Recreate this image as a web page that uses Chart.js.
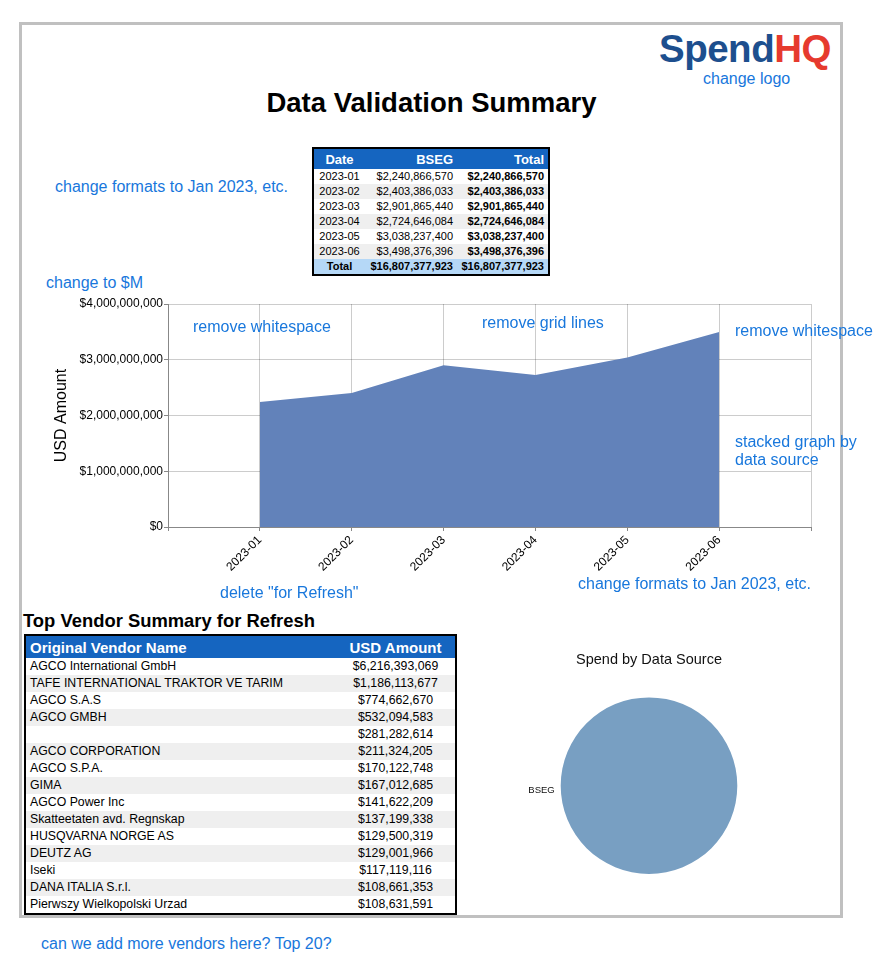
<!DOCTYPE html>
<html>
<head>
<meta charset="utf-8">
<script src="https://cdn.jsdelivr.net/npm/chart.js@4.4.0/dist/chart.umd.min.js"></script>
<style>
  html, body { margin: 0; padding: 0; background: #fff; }
  body { width: 889px; height: 961px; position: relative; overflow: hidden;
         font-family: "Liberation Sans", Arial, sans-serif; color: #000; }
  .abs { position: absolute; white-space: nowrap; }
  .frame { position: absolute; left: 19px; top: 22px; width: 824px; height: 896px;
           border: 3px solid #c0c0c0; box-sizing: border-box; }
  .note { position: absolute; white-space: nowrap; color: #1877dc; font-size: 16px; line-height: 16px; }
  table { border-collapse: collapse; table-layout: fixed; position: absolute; }
  #sumTable { left: 312px; top: 147px; border: 2px solid #000; font-size: 11px; }
  #sumTable th { background: #1565c0; color: #fff; font-size: 13px; height: 20px; padding: 0 4px; }
  #sumTable td { height: 15px; padding: 0 4px; line-height: 15px; }
  #venTable { left: 24px; top: 634px; border: 2px solid #000; font-size: 12.3px; }
  #venTable th { background: #1565c0; color: #fff; font-size: 15px; height: 22px; padding: 0 4px; }
  #venTable td { height: 17px; padding: 0 4px; line-height: 17px; }
  tr.alt td { background: #efefef; }
  tr.tot td { background: #b5d8f7; font-weight: bold; }
  canvas { position: absolute; }
</style>
</head>
<body>
<div class="frame"></div>

<div class="abs" style="left:659px; top:27px; font-size:38.5px; line-height:44px; font-weight:bold; letter-spacing:-0.5px;"><span style="color:#1d4f8e">Spend</span><span style="color:#e63a2e">HQ</span></div>
<div class="note" style="left:703px; top:71px;">change logo</div>

<div class="abs" style="left:0; width:863px; top:89px; text-align:center; font-size:27.5px; line-height:27px; font-weight:bold;">Data Validation Summary</div>

<div class="note" style="left:55px; top:179px;">change formats to Jan 2023, etc.</div>
<div class="note" style="left:46px; top:275px;">change to $M</div>

<table id="sumTable">
  <colgroup><col style="width:52px"><col style="width:92px"><col style="width:92px"></colgroup>
  <thead><tr><th style="text-align:center">Date</th><th style="text-align:right">BSEG</th><th style="text-align:right">Total</th></tr></thead>
  <tbody id="sumBody"></tbody>
</table>

<canvas id="area" width="800" height="290" style="left:40px; top:295px; width:800px; height:290px;"></canvas>

<div class="note" style="left:193px; top:319px;">remove whitespace</div>
<div class="note" style="left:482px; top:315px;">remove grid lines</div>
<div class="note" style="left:735px; top:323px;">remove whitespace</div>
<div class="note" style="left:735px; top:433px; line-height:18px;">stacked graph by<br>data source</div>
<div class="note" style="left:220px; top:585px;">delete "for Refresh"</div>
<div class="note" style="left:578px; top:576px;">change formats to Jan 2023, etc.</div>

<div class="abs" style="left:23px; top:612px; font-size:18.4px; line-height:18px; font-weight:bold;">Top Vendor Summary for Refresh</div>
<table id="venTable">
  <colgroup><col style="width:311px"><col style="width:120px"></colgroup>
  <thead><tr><th style="text-align:left">Original Vendor Name</th><th style="text-align:center">USD Amount</th></tr></thead>
  <tbody id="venBody"></tbody>
</table>

<canvas id="pie" width="360" height="240" style="left:469px; top:640px; width:360px; height:240px;"></canvas>

<div class="note" style="left:41px; top:936px;">can we add more vendors here? Top 20?</div>

<script>
// ---- Data ----
const months = ['2023-01', '2023-02', '2023-03', '2023-04', '2023-05', '2023-06'];
const bsegValues = [2240866570, 2403386033, 2901865440, 2724646084, 3038237400, 3498376396];
const totalValues = [2240866570, 2403386033, 2901865440, 2724646084, 3038237400, 3498376396];
const grandTotal = 16807377923;
const yTicks = [0, 1000000000, 2000000000, 3000000000, 4000000000];

const vendorNames = ['AGCO International GmbH', 'TAFE INTERNATIONAL TRAKTOR VE TARIM', 'AGCO S.A.S', 'AGCO GMBH', '',
  'AGCO CORPORATION', 'AGCO S.P.A.', 'GIMA', 'AGCO Power Inc', 'Skatteetaten avd. Regnskap',
  'HUSQVARNA NORGE AS', 'DEUTZ AG', 'Iseki', 'DANA ITALIA S.r.l.', 'Pierwszy Wielkopolski Urzad'];
const vendorAmounts = [6216393069, 1186113677, 774662670, 532094583, 281282614,
  211324205, 170122748, 167012685, 141622209, 137199338,
  129500319, 129001966, 117119116, 108661353, 108631591];

const sourceLabels = ['BSEG'];
const sourceValues = [16807377923];

const usd = v => '$' + Number(v).toLocaleString('en-US');

// ---- Tables ----
const sb = document.getElementById('sumBody');
months.forEach((m, i) => {
  const tr = document.createElement('tr');
  if (i % 2 === 1) tr.className = 'alt';
  tr.innerHTML = '<td style="text-align:center">' + m + '</td><td style="text-align:right">' + usd(bsegValues[i]) +
    '</td><td style="text-align:right;font-weight:bold">' + usd(totalValues[i]) + '</td>';
  sb.appendChild(tr);
});
const ttr = document.createElement('tr');
ttr.className = 'tot';
ttr.innerHTML = '<td style="text-align:center">Total</td><td style="text-align:right">' + usd(grandTotal) +
  '</td><td style="text-align:right">' + usd(grandTotal) + '</td>';
sb.appendChild(ttr);

const vb = document.getElementById('venBody');
vendorNames.forEach((n, i) => {
  const tr = document.createElement('tr');
  if (i % 2 === 1) tr.className = 'alt';
  tr.innerHTML = '<td>' + (n || '&nbsp;') + '</td><td style="text-align:center">' + usd(vendorAmounts[i]) + '</td>';
  vb.appendChild(tr);
});

// ---- Area chart ----
const FONT = '"Liberation Sans", Arial, sans-serif';
Chart.defaults.font.family = FONT;
Chart.defaults.color = '#111';

const areaLabels = [''].concat(months, ['']);
const areaData = [null].concat(bsegValues, [null]);

new Chart(document.getElementById('area'), {
  type: 'line',
  data: {
    labels: areaLabels,
    datasets: [{
      label: 'BSEG',
      data: areaData,
      fill: 'origin',
      backgroundColor: '#6282ba',
      borderWidth: 0,
      borderColor: 'rgba(0,0,0,0)',
      pointRadius: 0,
      tension: 0
    }]
  },
  options: {
    responsive: false,
    animation: false,
    layout: { padding: { top: 9, right: 29, left: 0, bottom: 0 } },
    plugins: { legend: { display: false }, tooltip: { enabled: false }, title: { display: false } },
    scales: {
      x: {
        z: 1,
        offset: false,
        grid: { color: 'rgba(0,0,0,0.2)', tickColor: '#888', tickLength: 4, lineWidth: 1 },
        border: { color: '#888', width: 1 },
        ticks: { autoSkip: false, maxRotation: 45, minRotation: 45, font: { size: 12 }, color: '#000', padding: 2 },
        afterFit: s => { s.height = 58; }
      },
      y: {
        z: 1,
        min: yTicks[0],
        max: yTicks[yTicks.length - 1],
        afterBuildTicks: s => { s.ticks = yTicks.map(v => ({ value: v })); },
        grid: { color: 'rgba(0,0,0,0.2)', tickColor: '#888', tickLength: 4, lineWidth: 1 },
        border: { color: '#888', width: 1 },
        ticks: { font: { size: 12 }, color: '#000', padding: 1, callback: v => usd(v) },
        title: { display: true, text: 'USD Amount', font: { size: 16 }, color: '#000', padding: { top: 12, bottom: 0 } },
        afterFit: s => { s.width = 128; }
      }
    }
  }
});

// ---- Pie chart ----
const pieLabelPlugin = {
  id: 'pieLabel',
  afterDatasetsDraw(chart) {
    const meta = chart.getDatasetMeta(0);
    const ctx = chart.ctx;
    ctx.save();
    ctx.font = '9.5px ' + FONT;
    ctx.fillStyle = '#111';
    ctx.textAlign = 'right';
    ctx.textBaseline = 'middle';
    meta.data.forEach((arc, i) => {
      ctx.fillText(chart.data.labels[i], arc.x - arc.outerRadius - 6, arc.y + 5);
    });
    ctx.restore();
  }
};

new Chart(document.getElementById('pie'), {
  type: 'pie',
  data: {
    labels: sourceLabels,
    datasets: [{ data: sourceValues, backgroundColor: ['#789fc2'], borderWidth: 0 }]
  },
  options: {
    responsive: false,
    animation: false,
    layout: { padding: { top: 0, bottom: 6, left: 0, right: 0 } },
    plugins: {
      legend: { display: false },
      tooltip: { enabled: false },
      title: { display: true, text: 'Spend by Data Source', color: '#111',
               font: { size: 14.5, weight: 'normal' }, padding: { top: 11, bottom: 29 } }
    }
  },
  plugins: [pieLabelPlugin]
});
</script>
</body>
</html>
